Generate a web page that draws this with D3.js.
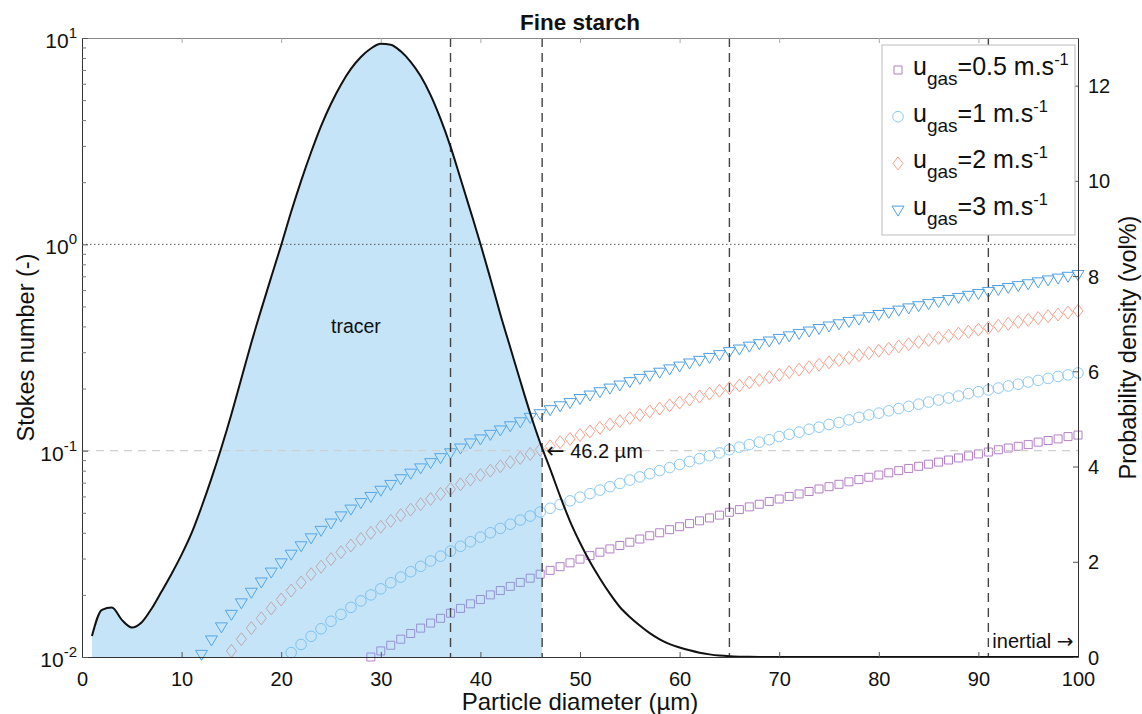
<!DOCTYPE html>
<html>
<head>
<meta charset="utf-8">
<script src="https://cdn.jsdelivr.net/npm/d3@7"></script>
<style>
body { margin: 0; background: #fff; }
svg text { font-family: "Liberation Sans", Arial, Helvetica, sans-serif; fill: #111; }
</style>
</head>
<body>
<div id="chart"></div>
<script>
// ---------------- data ----------------
// particle diameters (um) where the Stokes markers are plotted
var diameters = [12,13,14,15,16,17,18,19,20,21,22,23,24,25,26,27,28,29,30,31,32,33,34,35,36,37,38,39,40,41,
    42,43,44,45,46,47,48,49,50,51,52,53,54,55,56,57,58,59,60,61,62,63,64,65,66,67,68,69,70,71,
    72,73,74,75,76,77,78,79,80,81,82,83,84,85,86,87,88,89,90,91,92,93,94,95,96,97,98,99,100];

// Stokes number per gas velocity (null = below the axis, not drawn)
var stokesU3 = [0.0103,0.0121,0.0140,0.0161,0.0183,0.0206,0.0231,0.0258,0.0286,0.0315,
    0.0346,0.0378,0.0411,0.0446,0.0483,0.0521,0.0560,0.0600,0.0643,0.0686,
    0.0731,0.0778,0.0825,0.0875,0.0925,0.0977,0.103,0.109,0.114,0.120,
    0.126,0.132,0.138,0.145,0.151,0.158,0.165,0.171,0.179,0.186,
    0.193,0.201,0.208,0.216,0.224,0.232,0.240,0.249,0.257,0.266,
    0.274,0.283,0.292,0.302,0.311,0.321,0.330,0.340,0.350,0.360,
    0.370,0.380,0.391,0.402,0.412,0.423,0.434,0.446,0.457,0.468,
    0.480,0.492,0.504,0.516,0.528,0.540,0.553,0.566,0.578,0.591,
    0.604,0.618,0.631,0.644,0.658,0.672,0.686,0.700,0.714];

var stokesU2 = [null,null,null,
    0.0107,0.0122,0.0138,0.0154,0.0172,0.0190,0.0210,
    0.0230,0.0252,0.0274,0.0298,0.0322,0.0347,0.0373,0.0400,0.0428,0.0457,
    0.0487,0.0518,0.0550,0.0583,0.0617,0.0652,0.0687,0.0724,0.0762,0.0800,
    0.0840,0.0880,0.0922,0.0964,0.101,0.105,0.110,0.114,0.119,0.124,
    0.129,0.134,0.139,0.144,0.149,0.155,0.160,0.166,0.171,0.177,
    0.183,0.189,0.195,0.201,0.207,0.214,0.220,0.227,0.233,0.240,
    0.247,0.254,0.261,0.268,0.275,0.282,0.290,0.297,0.305,0.312,
    0.320,0.328,0.336,0.344,0.352,0.360,0.369,0.377,0.386,0.394,
    0.403,0.412,0.421,0.430,0.439,0.448,0.457,0.467,0.476];

var stokesU1 = [null,null,null,null,null,null,null,null,null,
    0.0105,
    0.0115,0.0126,0.0137,0.0149,0.0161,0.0174,0.0187,0.0200,0.0214,0.0229,
    0.0244,0.0259,0.0275,0.0292,0.0308,0.0326,0.0344,0.0362,0.0381,0.0400,
    0.0420,0.0440,0.0461,0.0482,0.0504,0.0526,0.0548,0.0571,0.0595,0.0619,
    0.0644,0.0669,0.0694,0.0720,0.0746,0.0773,0.0801,0.0828,0.0857,0.0886,
    0.0915,0.0945,0.0975,0.101,0.104,0.107,0.110,0.113,0.117,0.120,
    0.123,0.127,0.130,0.134,0.137,0.141,0.145,0.149,0.152,0.156,
    0.160,0.164,0.168,0.172,0.176,0.180,0.184,0.189,0.193,0.197,
    0.201,0.206,0.210,0.215,0.219,0.224,0.229,0.233,0.238];

var stokesU05 = [null,null,null,null,null,null,null,null,null,null,null,null,null,null,null,null,null,
    0.0100,0.0107,0.0114,
    0.0122,0.0130,0.0138,0.0146,0.0154,0.0163,0.0172,0.0181,0.0190,0.0200,
    0.0210,0.0220,0.0230,0.0241,0.0252,0.0263,0.0274,0.0286,0.0298,0.0310,
    0.0322,0.0334,0.0347,0.0360,0.0373,0.0387,0.0400,0.0414,0.0428,0.0443,
    0.0457,0.0472,0.0487,0.0503,0.0518,0.0534,0.0550,0.0567,0.0583,0.0600,
    0.0617,0.0634,0.0652,0.0669,0.0687,0.0706,0.0724,0.0743,0.0762,0.0781,
    0.0800,0.0820,0.0840,0.0860,0.0880,0.0901,0.0922,0.0943,0.0964,0.0985,
    0.101,0.103,0.105,0.107,0.110,0.112,0.114,0.117,0.119];

var gasVelocities = ["0.5", "1", "2", "3"];

// particle size distribution (vol%)
var psdDiameter = [1,2,3,4,5,6,7,8,9,10,11,12,13,14,15,16,17,18,19,20,21,22,23,24,25,26,27,28,29,30,
    31,32,33,34,35,36,37,38,39,40,41,42,43,44,45,46,47,48,49,50,51,52,53,54,55,56,57,58,59,60,
    61,62,63,64,65,66,67,68,69,70,100];
var psdVolume = [0.44,0.99,1.04,0.78,0.62,0.73,1.02,1.38,1.75,2.15,2.6,3.15,3.75,4.4,5.1,5.85,6.6,7.3,7.98,8.65,
    9.35,10.0,10.6,11.15,11.62,12.02,12.35,12.6,12.78,12.88,12.86,12.72,12.5,12.2,11.8,11.3,10.72,10.05,9.37,8.68,
    7.95,7.2,6.5,5.8,5.12,4.5,3.95,3.38,2.85,2.4,2.0,1.65,1.33,1.05,0.84,0.66,0.5,0.37,0.27,0.2,
    0.14,0.09,0.055,0.03,0.015,0.007,0.003,0.001,0,0,0];

// regime boundaries (um) and the tracer cut-off
var regimeLines = [37, 46.2, 65, 91];
var tracerCutoff = 46.2;

// tick labels
var xTicks = [0,10,20,30,40,50,60,70,80,90,100];
var stokesTicks = [0.01, 0.1, 1, 10];
var stokesTickExp = ["-2", "-1", "0", "1"];
var stokesMinor = [0.02,0.03,0.04,0.05,0.06,0.07,0.08,0.09,0.2,0.3,0.4,0.5,0.6,0.7,0.8,0.9,2,3,4,5,6,7,8,9];
var psdTicks = [0,2,4,6,8,10,12];

// ---------------- layout ----------------
var svgWidth = 1142;
var svgHeight = 714;
var margin = { top: 38, right: 64, bottom: 57, left: 82 };
var chartWidth = svgWidth - margin.left - margin.right;
var chartHeight = svgHeight - margin.top - margin.bottom;

var svg = d3.select("#chart")
    .append("svg")
    .attr("width", svgWidth)
    .attr("height", svgHeight);

var chartGroup = svg.append("g")
    .attr("transform", `translate(${margin.left}, ${margin.top})`);

var xScale = d3.scaleLinear().domain([0, 100]).range([0, chartWidth]);
var yStokes = d3.scaleLog().domain([0.01, 10]).range([chartHeight, 0]);
var yPsd = d3.scaleLinear().domain([0, 13]).range([chartHeight, 0]);

// marker shapes (matlab-like)
function markerPath(shape) {
    if (shape === "square") return "M-4,-4H4V4H-4Z";
    if (shape === "circle") return "M5.3,0A5.3,5.3 0 1,1 -5.3,0A5.3,5.3 0 1,1 5.3,0Z";
    if (shape === "diamond") return "M0,-6.5L5,0L0,6.5L-5,0Z";
    return "M-6,-4L6,-4L0,6Z"; // triangle pointing down
}

var series = [
    { u: gasVelocities[0], values: stokesU05, shape: "square", color: "#b47fc6" },
    { u: gasVelocities[1], values: stokesU1, shape: "circle", color: "#8ccaf3" },
    { u: gasVelocities[2], values: stokesU2, shape: "diamond", color: "#f5a28d" },
    { u: gasVelocities[3], values: stokesU3, shape: "triangle", color: "#4e9fe3" }
];

// ---- Stokes markers (drawn under the translucent tracer fill) ----
series.forEach(function(s) {
    var pts = diameters.map((d, i) => ({ d: d, st: s.values[i] })).filter(p => p.st !== null);
    chartGroup.append("g")
        .selectAll("path")
        .data(pts)
        .enter()
        .append("path")
        .attr("transform", p => `translate(${xScale(p.d)}, ${yStokes(p.st)})`)
        .attr("d", markerPath(s.shape))
        .attr("fill", "none")
        .attr("stroke", s.color)
        .attr("stroke-width", 1);
});

// ---- tracer area, clipped at the cut-off diameter ----
svg.append("defs").append("clipPath")
    .attr("id", "tracerClip")
    .append("rect")
    .attr("x", 0)
    .attr("y", 0)
    .attr("width", xScale(tracerCutoff))
    .attr("height", chartHeight);

var psd = psdDiameter.map((d, i) => ({ d: d, v: psdVolume[i] }));

var psdArea = d3.area()
    .x(p => xScale(p.d))
    .y0(chartHeight)
    .y1(p => yPsd(p.v))
    .curve(d3.curveMonotoneX);

chartGroup.append("path")
    .datum(psd)
    .attr("d", psdArea)
    .attr("clip-path", "url(#tracerClip)")
    .attr("fill", "#5fb3ec")
    .attr("fill-opacity", 0.36);

// reference lines St = 1 and St = 0.1
chartGroup.append("line")
    .attr("x1", 0).attr("x2", chartWidth)
    .attr("y1", yStokes(1)).attr("y2", yStokes(1))
    .attr("stroke", "#555")
    .attr("stroke-width", 1)
    .attr("stroke-dasharray", "1.5,2.5");

chartGroup.append("line")
    .attr("x1", 0).attr("x2", chartWidth)
    .attr("y1", yStokes(0.1)).attr("y2", yStokes(0.1))
    .attr("stroke", "#cfcfcf")
    .attr("stroke-width", 1.2)
    .attr("stroke-dasharray", "8,6");

// vertical regime lines
chartGroup.selectAll(".regime")
    .data(regimeLines)
    .enter()
    .append("line")
    .attr("class", "regime")
    .attr("x1", d => xScale(d)).attr("x2", d => xScale(d))
    .attr("y1", 0).attr("y2", chartHeight)
    .attr("stroke", "#444")
    .attr("stroke-width", 1.4)
    .attr("stroke-dasharray", "9,6");

// distribution curve
var psdLine = d3.line()
    .x(p => xScale(p.d))
    .y(p => yPsd(p.v))
    .curve(d3.curveMonotoneX);

chartGroup.append("path")
    .datum(psd)
    .attr("d", psdLine)
    .attr("fill", "none")
    .attr("stroke", "#111")
    .attr("stroke-width", 2);

// ---------------- axes ----------------
function styleAxis(g) {
    g.selectAll("path").attr("stroke", "#333").attr("stroke-width", 1);
    g.selectAll("line").attr("stroke", "#555");
    g.selectAll("text").style("font-size", "20px").attr("fill", "#111");
}

var bottomAxis = d3.axisBottom(xScale).tickValues(xTicks).tickSize(-5).tickSizeOuter(0).tickPadding(15);
chartGroup.append("g")
    .attr("transform", `translate(0, ${chartHeight})`)
    .call(bottomAxis)
    .call(styleAxis);

var topAxis = d3.axisTop(xScale).tickValues(xTicks).tickSize(-5).tickSizeOuter(0).tickFormat("");
chartGroup.append("g")
    .call(topAxis)
    .call(g => g.selectAll("path").attr("stroke", "#888"))
    .call(g => g.selectAll("line").attr("stroke", "#aaa"));

var leftAxis = d3.axisLeft(yStokes).tickValues(stokesTicks).tickSize(-6).tickSizeOuter(0).tickFormat("");
chartGroup.append("g")
    .call(leftAxis)
    .call(styleAxis);

var leftMinor = d3.axisLeft(yStokes).tickValues(stokesMinor).tickSize(-4).tickSizeOuter(0).tickFormat("");
chartGroup.append("g")
    .call(leftMinor)
    .call(g => g.select("path").remove())
    .call(g => g.selectAll("line").attr("stroke", "#777"));

// 10^n labels
var leftLabels = chartGroup.append("g");
stokesTicks.forEach(function(t, i) {
    var txt = leftLabels.append("text")
        .attr("x", -5)
        .attr("y", yStokes(t) + 10)
        .attr("text-anchor", "end");
    txt.append("tspan").style("font-size", "21px").text("10");
    txt.append("tspan").style("font-size", "15px").attr("dy", -10).text(stokesTickExp[i]);
});

var rightAxis = d3.axisRight(yPsd).tickValues(psdTicks).tickSize(-5).tickSizeOuter(0).tickPadding(10);
chartGroup.append("g")
    .attr("transform", `translate(${chartWidth}, 0)`)
    .call(rightAxis)
    .call(styleAxis)
    .call(g => g.selectAll("text").attr("dy", "0.35em"));

// ---------------- texts ----------------
svg.append("text")
    .attr("x", margin.left + chartWidth / 2)
    .attr("y", 30)
    .attr("text-anchor", "middle")
    .style("font-size", "22.5px")
    .style("font-weight", "bold")
    .text("Fine starch");

svg.append("text")
    .attr("x", margin.left + chartWidth / 2)
    .attr("y", 710)
    .attr("text-anchor", "middle")
    .style("font-size", "24px")
    .text("Particle diameter (µm)");

svg.append("text")
    .attr("transform", `translate(34, ${margin.top + chartHeight / 2}) rotate(-90)`)
    .attr("text-anchor", "middle")
    .style("font-size", "23.5px")
    .text("Stokes number (-)");

svg.append("text")
    .attr("transform", `translate(1136, ${margin.top + chartHeight / 2}) rotate(-90)`)
    .attr("text-anchor", "middle")
    .style("font-size", "23.5px")
    .text("Probability density (vol%)");

chartGroup.append("text")
    .attr("x", xScale(27.5))
    .attr("y", yStokes(0.4))
    .attr("dy", "0.35em")
    .attr("text-anchor", "middle")
    .style("font-size", "19.5px")
    .text("tracer");

var cutText = chartGroup.append("text")
    .attr("x", xScale(tracerCutoff) + 4)
    .attr("y", yStokes(0.1))
    .attr("dy", "0.35em")
    .style("font-size", "20px");
cutText.append("tspan").style("font-family", "'DejaVu Sans'").style("font-size", "22px").text("\u2190");
cutText.append("tspan").text(" 46.2 µm");

var inertialText = chartGroup.append("text")
    .attr("x", xScale(91) + 4)
    .attr("y", yStokes(0.012))
    .attr("dy", "0.35em")
    .style("font-size", "20px");
inertialText.append("tspan").text("inertial ");
inertialText.append("tspan").style("font-family", "'DejaVu Sans'").style("font-size", "20px").text("\u2192");

// ---------------- legend ----------------
var legend = chartGroup.append("g")
    .attr("transform", `translate(${chartWidth - 196}, 7)`);

legend.append("rect")
    .attr("width", 193)
    .attr("height", 190)
    .attr("fill", "#fff")
    .attr("stroke", "#bbb")
    .attr("stroke-width", 1);

series.forEach(function(s, i) {
    var rowY = 25 + i * 46.7;
    legend.append("path")
        .attr("transform", `translate(16, ${rowY})`)
        .attr("d", markerPath(s.shape))
        .attr("fill", "none")
        .attr("stroke", s.color)
        .attr("stroke-width", 1);

    var txt = legend.append("text")
        .attr("x", 31)
        .attr("y", rowY + 5);
    txt.append("tspan").style("font-size", "25px").text("u");
    txt.append("tspan").style("font-size", "19px").attr("dy", 10).text("gas");
    txt.append("tspan").style("font-size", "25px").attr("dy", -10).text("=" + s.u + " m.s");
    txt.append("tspan").style("font-size", "16.5px").attr("dy", -10).text("-1");
});
</script>
</body>
</html>
